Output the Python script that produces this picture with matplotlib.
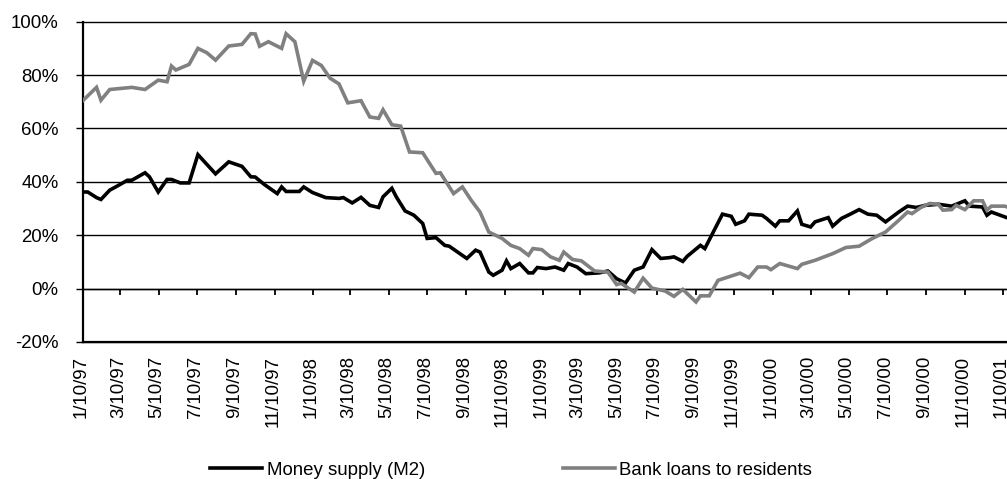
import matplotlib
matplotlib.use("Agg")
import matplotlib.pyplot as plt
import matplotlib.dates as mdates
import matplotlib.transforms as mtransforms
from matplotlib.ticker import FixedLocator, FuncFormatter
from matplotlib.lines import Line2D
import numpy as np
from datetime import datetime

# ---------------- data (weeks since 10 Jan 1997, % y/y growth) ----------------
start_date = "1997-01-10"

m2_weeks = [0, 1, 3, 4, 6, 8, 10, 11, 14, 15, 17, 19, 20, 22, 24, 26, 30, 33, 36, 38,
            39, 41, 44, 45, 46, 49, 50, 52, 55, 58, 59, 61, 63, 65, 67, 68, 70, 71, 73, 75,
            77, 78, 80, 82, 83, 87, 89, 90, 92, 93, 95, 96, 97, 99, 101, 102, 103, 105, 107, 109,
            110, 112, 114, 117, 119, 121, 123, 125, 127, 129, 131, 133, 134, 136, 137, 140, 141, 145, 147, 148,
            150, 151, 154, 155, 157, 158, 160, 162, 163, 165, 166, 169, 170, 172, 174, 176, 178, 180, 182, 185,
            187, 189, 191, 194, 197, 200, 201, 204, 205, 206, 210]
m2_values = [36.2, 36.2, 34.1, 33.4, 36.9, 38.7, 40.6, 40.6, 43.4, 41.9, 36.2, 40.9, 40.9, 39.6, 39.6, 50.2, 43.0, 47.5, 45.8, 41.9,
             41.8, 39.1, 35.6, 38.1, 36.4, 36.4, 38.1, 36.0, 34.1, 33.8, 34.1, 32.1, 34.2, 31.2, 30.4, 34.4, 37.6, 34.4, 29.1, 27.5,
             24.4, 18.8, 19.1, 16.2, 15.9, 11.3, 14.4, 13.7, 6.2, 5.0, 6.9, 10.4, 7.5, 9.4, 5.9, 5.9, 7.9, 7.5, 8.1, 6.9,
             9.4, 8.1, 5.6, 5.9, 6.6, 3.7, 2.1, 6.9, 8.1, 14.6, 11.3, 11.6, 11.9, 10.2, 12.1, 16.2, 15.0, 27.9, 27.1, 24.1,
             25.4, 27.9, 27.5, 26.3, 23.4, 25.4, 25.4, 29.1, 24.1, 23.1, 25.0, 26.6, 23.4, 26.3, 27.9, 29.6, 27.9, 27.5, 25.0, 28.7,
             30.9, 30.4, 31.2, 31.6, 30.9, 32.9, 30.9, 30.6, 27.5, 28.7, 26.3]

loan_weeks = [0, 3, 4, 6, 11, 14, 17, 19, 20, 21, 24, 26, 28, 30, 33, 36, 38, 39, 40, 42,
              45, 46, 48, 50, 52, 54, 56, 58, 60, 63, 65, 67, 68, 70, 72, 74, 77, 80, 81, 84,
              86, 88, 90, 92, 95, 97, 99, 101, 102, 104, 106, 108, 109, 111, 113, 116, 119, 121, 122, 125,
              127, 129, 132, 134, 136, 139, 140, 142, 144, 149, 151, 153, 155, 156, 158, 162, 163, 166, 170, 173,
              176, 179, 182, 185, 187, 188, 190, 192, 194, 195, 197, 198, 200, 202, 204, 205, 206, 209, 210]
loan_values = [70.6, 75.4, 70.6, 74.6, 75.4, 74.6, 78.1, 77.5, 83.4, 81.9, 84.0, 90.0, 88.4, 85.6, 90.9, 91.5, 95.5, 95.4, 90.8, 92.5,
               90.0, 95.5, 92.5, 77.7, 85.5, 83.6, 78.8, 76.7, 69.6, 70.4, 64.3, 63.8, 67.0, 61.4, 60.9, 51.2, 50.9, 43.2, 43.4, 35.6,
               38.1, 33.1, 28.7, 21.2, 18.8, 16.2, 15.0, 12.5, 15.0, 14.6, 11.9, 10.6, 13.7, 10.9, 10.4, 6.6, 6.2, 1.5, 2.0, -1.3,
               3.9, 0.2, -0.9, -2.9, -0.3, -5.0, -2.7, -2.7, 3.1, 5.8, 4.1, 8.1, 8.1, 7.1, 9.4, 7.5, 9.1, 10.6, 13.1, 15.4,
               15.9, 18.8, 21.2, 25.6, 28.7, 28.1, 30.4, 31.9, 31.6, 29.4, 29.6, 31.2, 29.6, 32.9, 32.9, 29.4, 30.9, 30.9, 30.4]

x_tick_labels = ["1/10/97", "3/10/97", "5/10/97", "7/10/97", "9/10/97", "11/10/97",
                 "1/10/98", "3/10/98", "5/10/98", "7/10/98", "9/10/98", "11/10/98",
                 "1/10/99", "3/10/99", "5/10/99", "7/10/99", "9/10/99", "11/10/99",
                 "1/10/00", "3/10/00", "5/10/00", "7/10/00", "9/10/00", "11/10/00",
                 "1/10/01"]
y_ticks = [-20, 0, 20, 40, 60, 80, 100]
series_names = ["Money supply (M2)", "Bank loans to residents"]

# ---------------- styling ----------------
plt.rcParams['font.family'] = ['Liberation Sans', 'DejaVu Sans']
FS = 13.4
LW = 2.6

base = np.datetime64(start_date)
m2_dates = base + np.array(m2_weeks) * np.timedelta64(7, 'D')
loan_dates = base + np.array(loan_weeks) * np.timedelta64(7, 'D')


def parse_label(s):
    m, d, y = s.split("/")
    y = int(y)
    y = 1900 + y if y > 50 else 2000 + y
    return datetime(y, int(m), int(d))


tick_nums = [mdates.date2num(parse_label(s)) for s in x_tick_labels]

W, H = 1007, 479
fig = plt.figure(figsize=(W / 100, H / 100), dpi=100)
ax_left, ax_right, ax_top, ax_bottom = 83.3, 1007.0, 21.7, 342.0
ax = fig.add_axes([ax_left / W, (H - ax_bottom) / H, (ax_right - ax_left) / W, (ax_bottom - ax_top) / H])

ax.plot(m2_dates, m2_values, color='black', lw=LW, zorder=3, solid_joinstyle='miter')
ax.plot(loan_dates, loan_values, color='#808080', lw=LW, zorder=4, solid_joinstyle='miter')

# x limits: first label at the axis, last label 4 px before the right edge
x0 = tick_nums[0]
px_per_day = (1003.3 - ax_left) / (tick_nums[-1] - x0)
ax.set_xlim(x0, x0 + (ax_right - ax_left) / px_per_day)
ax.set_ylim(-20, 100)

# y axis
ax.set_yticks(y_ticks)
ax.yaxis.set_major_formatter(FuncFormatter(lambda v, p: f"{v:.0f}%"))
ax.tick_params(axis='y', direction='out', length=4.8, width=1.0, pad=13, labelsize=FS, colors='black')
ax.yaxis.grid(True, color='black', lw=1.0)
ax.set_axisbelow(True)
for gl in ax.get_ygridlines():
    gl.set_clip_on(False)

# x axis crosses at 0, labels at the bottom
ax.xaxis.set_major_locator(FixedLocator(tick_nums))
ax.tick_params(axis='x', direction='out', length=4.5, width=1.3, labelbottom=False, colors='black')
ax.spines['bottom'].set_position(('data', 0))
ax.spines['bottom'].set_linewidth(1.0)
ax.spines['left'].set_linewidth(1.6)
ax.spines['top'].set_visible(False)
ax.spines['right'].set_visible(False)

sec = ax.secondary_xaxis('bottom')
sec.set_xticks(tick_nums, labels=x_tick_labels)
sec.tick_params(axis='x', length=0, pad=10, labelsize=FS, labelrotation=90)
sec.spines['bottom'].set_linewidth(1.6)
sec.spines['bottom'].set_color('black')
shift = mtransforms.ScaledTranslation(-2 / 100, 0, fig.dpi_scale_trans)
for lab in sec.get_xticklabels():
    lab.set_transform(lab.get_transform() + shift)

handles = [Line2D([], [], color='black', lw=LW), Line2D([], [], color='#808080', lw=LW)]
fig.legend(handles, series_names, loc='center', bbox_to_anchor=(511 / W, (H - 470) / H),
           ncol=2, frameon=False, fontsize=FS, handlelength=2.8, handletextpad=0.25,
           columnspacing=7.4)

fig.savefig("out.png", dpi=100)
